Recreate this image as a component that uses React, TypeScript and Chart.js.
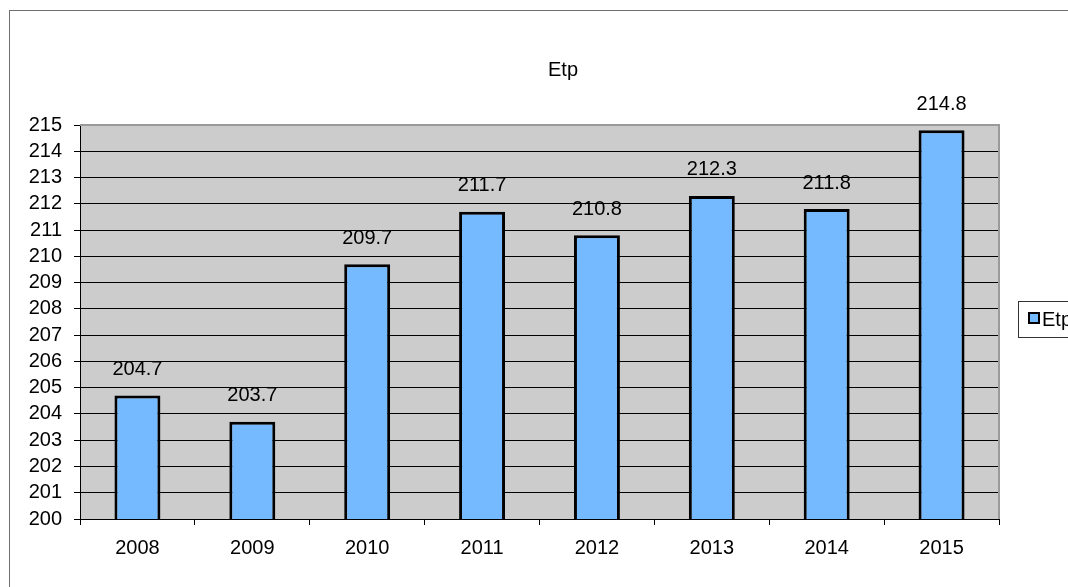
import React, { useEffect, useRef } from "react";
import { Chart, registerables } from "chart.js";

Chart.register(...registerables);

const categories: string[] = ["2008", "2009", "2010", "2011", "2012", "2013", "2014", "2015"];
const etpValues: number[] = [204.7, 203.7, 209.7, 211.7, 210.8, 212.3, 211.8, 214.8];
const seriesName = "Etp";
const chartTitle = "Etp";
const yMin = 200;
const yMax = 215;
const yStep = 1;

const FONT = "'Liberation Sans', Arial, sans-serif";
const FONT_SIZE = 20;
const BAR_COLOR = "#75B9FF";

const decorPlugin = {
  id: "decor",
  beforeDraw(chart: any) {
    const { ctx, chartArea } = chart;
    ctx.save();
    ctx.fillStyle = "#ffffff";
    ctx.fillRect(0, 0, chart.width, chart.height);
    ctx.fillStyle = "#CCCCCC";
    ctx.fillRect(chartArea.left, chartArea.top, chartArea.right - chartArea.left, chartArea.bottom - chartArea.top);
    ctx.strokeStyle = "#6f6f6f";
    ctx.lineWidth = 1;
    ctx.strokeRect(9.5, 10.5, 1300, 800);
    ctx.restore();
  },
  beforeDatasetsDraw(chart: any) {
    const { ctx, chartArea } = chart;
    ctx.save();
    ctx.strokeStyle = "#9a9a9a";
    ctx.lineWidth = 2;
    ctx.beginPath();
    ctx.moveTo(chartArea.left, chartArea.top);
    ctx.lineTo(chartArea.right, chartArea.top);
    ctx.lineTo(chartArea.right, chartArea.bottom);
    ctx.stroke();
    ctx.restore();
  },
  afterDatasetsDraw(chart: any) {
    const { ctx } = chart;
    const meta = chart.getDatasetMeta(0);
    const data = chart.data.datasets[0].data as number[];
    ctx.save();
    ctx.fillStyle = "#000";
    ctx.font = `${FONT_SIZE}px ${FONT}`;
    ctx.textAlign = "center";
    ctx.textBaseline = "middle";
    meta.data.forEach((bar: any, i: number) => {
      ctx.fillText(data[i].toFixed(1), bar.x, bar.y - 26);
    });
    ctx.fillText(chartTitle, 563, 70);
    ctx.strokeStyle = "#333";
    ctx.lineWidth = 1;
    ctx.strokeRect(1018.5, 301.5, 120, 36);
    ctx.fillStyle = BAR_COLOR;
    ctx.fillRect(1029, 313, 10, 10);
    ctx.strokeStyle = "#000";
    ctx.lineWidth = 2;
    ctx.strokeRect(1029, 313, 10, 10);
    ctx.fillStyle = "#000";
    ctx.textAlign = "left";
    ctx.fillText(seriesName, 1042, 320);
    ctx.restore();
  },
};

export default function App() {
  const ref = useRef<HTMLCanvasElement | null>(null);
  useEffect(() => {
    if (!ref.current) return;
    const chart = new Chart(ref.current, {
      type: "bar",
      data: {
        labels: categories,
        datasets: [
          {
            label: seriesName,
            data: etpValues,
            backgroundColor: BAR_COLOR,
            borderColor: "#000",
            borderWidth: 3,
            borderSkipped: false,
            categoryPercentage: 1,
            barPercentage: 0.4,
          },
        ],
      },
      options: {
        responsive: false,
        animation: false,
        layout: { padding: { top: 125, left: 0, right: 69, bottom: 0 } },
        plugins: { legend: { display: false }, title: { display: false }, tooltip: { enabled: false } },
        scales: {
          x: {
            offset: true,
            grid: { offset: true, drawOnChartArea: false, drawTicks: true, tickLength: 6, color: "#000" },
            border: { display: true, color: "#000", width: 1 },
            ticks: { color: "#000", font: { family: FONT, size: FONT_SIZE }, padding: 11, maxRotation: 0 },
            afterFit(scale: any) {
              scale.height = 68;
            },
          },
          y: {
            min: yMin,
            max: yMax,
            ticks: {
              stepSize: yStep,
              autoSkip: false,
              color: "#000",
              font: { family: FONT, size: FONT_SIZE, lineHeight: 1 },
              padding: 12,
            },
            grid: { color: "#000", lineWidth: 1, tickLength: 6 },
            border: { display: true, color: "#000", width: 1 },
            afterFit(scale: any) {
              scale.width = 80;
            },
          },
        },
      },
      plugins: [decorPlugin],
    });
    return () => chart.destroy();
  }, []);
  return (
    <div style={{ position: "absolute", left: 0, top: 0, width: 1068, height: 587 }}>
      <canvas ref={ref} width={1068} height={587} />
    </div>
  );
}
